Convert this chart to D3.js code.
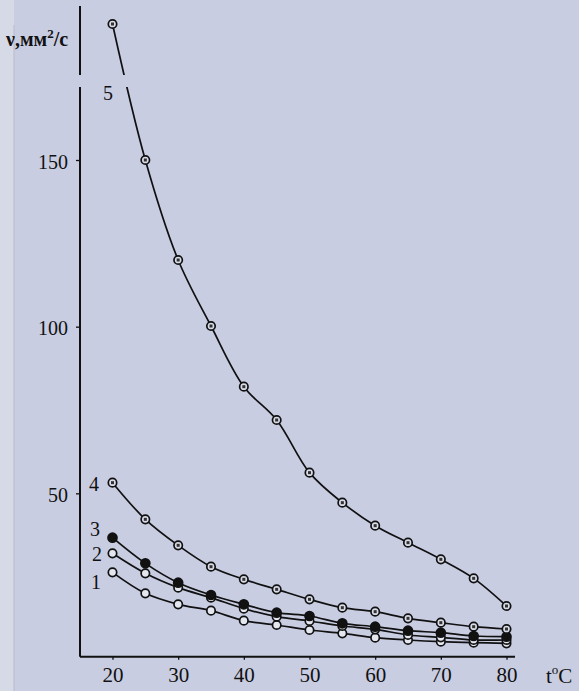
<!DOCTYPE html>
<html>
<head>
<meta charset="utf-8">
<script src="https://cdn.jsdelivr.net/npm/d3@7"></script>
<style>
  body { margin: 0; background: #c8cde2; }
  svg { display: block; }
  .tick text { font-family: "Liberation Serif", "Times New Roman", serif; fill: #111; }
</style>
</head>
<body>
<div id="chart"></div>
<script>
// temperatures, deg C
var temps = [20, 25, 30, 35, 40, 45, 50, 55, 60, 65, 70, 75, 80];

// kinematic viscosity, mm2/s
var curve1 = [26.3, 20.0, 16.7, 14.8, 11.8, 10.5, 9.0, 8.0, 6.7, 6.0, 5.5, 5.2, 5.0];
var curve2 = [32.0, 26.0, 21.7, 18.7, 15.4, 13.0, 11.7, 10.2, 9.2, 7.5, 6.8, 6.0, 6.0];
var curve3 = [36.7, 29.0, 23.2, 19.5, 16.7, 14.2, 13.2, 11.0, 10.0, 8.8, 8.2, 7.2, 7.0];
var curve4 = [53.2, 42.2, 34.4, 28.0, 24.2, 21.2, 18.2, 15.7, 14.5, 12.5, 11.2, 10.0, 9.3];
var curve5 = [190.8, 150.0, 120.0, 100.2, 82.0, 72.0, 56.2, 47.2, 40.3, 35.2, 30.2, 24.5, 16.2];

var curveNames = ["1", "2", "3", "4", "5"];
var xTicks = [20, 30, 40, 50, 60, 70, 80];
var yTicks = [50, 100, 150];

var svgWidth = 579;
var svgHeight = 691;
var bg = "#c8cde2";

var svg = d3.select("#chart").append("svg")
  .attr("width", svgWidth)
  .attr("height", svgHeight);

// background, with the lighter page edge on the left
svg.append("rect").attr("width", svgWidth).attr("height", svgHeight).attr("fill", bg);
svg.append("rect").attr("x", 0).attr("y", 0).attr("width", 14).attr("height", svgHeight).attr("fill", "#d6d9e6");
svg.append("line").attr("x1", 14).attr("x2", 14).attr("y1", 25).attr("y2", svgHeight)
  .attr("stroke", "#b9bccb").attr("stroke-width", 1);

// scales
var x = d3.scaleLinear().domain([20, 80]).range([112.5, 506.5]);
var y = d3.scaleLinear().domain([0, 150]).range([660, 160]);

var axisY = y(1);     // x axis sits a little above zero
var axisX = 80;       // y axis position

// x axis
var xAxis = d3.axisBottom(x).tickValues(xTicks).tickSize(3).tickPadding(7);
var gx = svg.append("g")
  .attr("transform", `translate(0, ${axisY})`)
  .call(xAxis);
gx.select(".domain").remove();
gx.selectAll(".tick line").attr("stroke", "#111").attr("stroke-width", 1.3);
gx.selectAll(".tick text").style("font-size", "21px");
svg.append("line")
  .attr("x1", axisX).attr("x2", 515)
  .attr("y1", axisY).attr("y2", axisY)
  .attr("stroke", "#111").attr("stroke-width", 2);

// y axis
var yAxis = d3.axisLeft(y).tickValues(yTicks).tickSize(4).tickPadding(8);
var gy = svg.append("g")
  .attr("transform", `translate(${axisX}, 0)`)
  .call(yAxis);
gy.select(".domain").remove();
gy.selectAll(".tick line").attr("stroke", "#111").attr("stroke-width", 1.3);
gy.selectAll(".tick text").style("font-size", "20px").attr("dy", "0.4em");
svg.append("line")
  .attr("x1", axisX).attr("x2", axisX)
  .attr("y1", axisY).attr("y2", 6)
  .attr("stroke", "#111").attr("stroke-width", 2);

// axis titles
var yTitle = svg.append("text")
  .attr("x", 6).attr("y", 46)
  .style("font-family", "'Liberation Serif', serif")
  .style("font-size", "20px")
  .style("font-weight", "bold")
  .attr("fill", "#111");
yTitle.append("tspan").text("ν,мм");
yTitle.append("tspan").attr("dy", -8).style("font-size", "13px").text("2");
yTitle.append("tspan").attr("dy", 8).text("/с");

var xTitle = svg.append("text")
  .attr("x", 546).attr("y", 683)
  .style("font-family", "'Liberation Serif', serif")
  .style("font-size", "21px")
  .attr("fill", "#111");
xTitle.append("tspan").text("t");
xTitle.append("tspan").attr("dy", -9).style("font-size", "13px").text("o");
xTitle.append("tspan").attr("dy", 9).text("C");

// curves
var series = [curve1, curve2, curve3, curve4, curve5];
var line = d3.line()
  .x(function(d, i) { return x(temps[i]); })
  .y(function(d) { return y(d); })
  .curve(d3.curveCatmullRom.alpha(0.5));

svg.selectAll("path.curve")
  .data(series)
  .enter()
  .append("path")
  .attr("class", "curve")
  .attr("d", line)
  .attr("fill", "none")
  .attr("stroke", "#111")
  .attr("stroke-width", 1.7);

// axis break (gap across y axis and curve 5)
svg.append("rect")
  .attr("x", 70).attr("y", 75)
  .attr("width", 60).attr("height", 12)
  .attr("fill", bg);

// markers: 1,2 open; 3 filled; 4,5 open with dark centre
var markerFill = ["#e4e7f0", "#e4e7f0", "#111", "#d8dbe8", "#d8dbe8"];
series.forEach(function(s, k) {
  var g = svg.append("g");
  g.selectAll("circle")
    .data(s)
    .enter()
    .append("circle")
    .attr("cx", function(d, i) { return x(temps[i]); })
    .attr("cy", function(d) { return y(d); })
    .attr("r", k === 2 ? 4.5 : 4.2)
    .attr("fill", markerFill[k])
    .attr("stroke", "#111")
    .attr("stroke-width", 1.7);
  if (k >= 3) {
    g.selectAll("rect")
      .data(s)
      .enter()
      .append("rect")
      .attr("x", function(d, i) { return x(temps[i]) - 1.5; })
      .attr("y", function(d) { return y(d) - 1.5; })
      .attr("width", 3).attr("height", 3)
      .attr("fill", "#333");
  }
});

// curve numbers
var labelX = [96, 97, 95, 94, 108];
var labelY = [589, 561, 536, 491, 100];
svg.selectAll("text.cname")
  .data(curveNames)
  .enter()
  .append("text")
  .attr("class", "cname")
  .attr("x", function(d, i) { return labelX[i]; })
  .attr("y", function(d, i) { return labelY[i]; })
  .attr("text-anchor", "middle")
  .style("font-family", "'Liberation Serif', serif")
  .style("font-size", "20px")
  .attr("fill", "#111")
  .text(function(d) { return d; });
</script>
</body>
</html>
